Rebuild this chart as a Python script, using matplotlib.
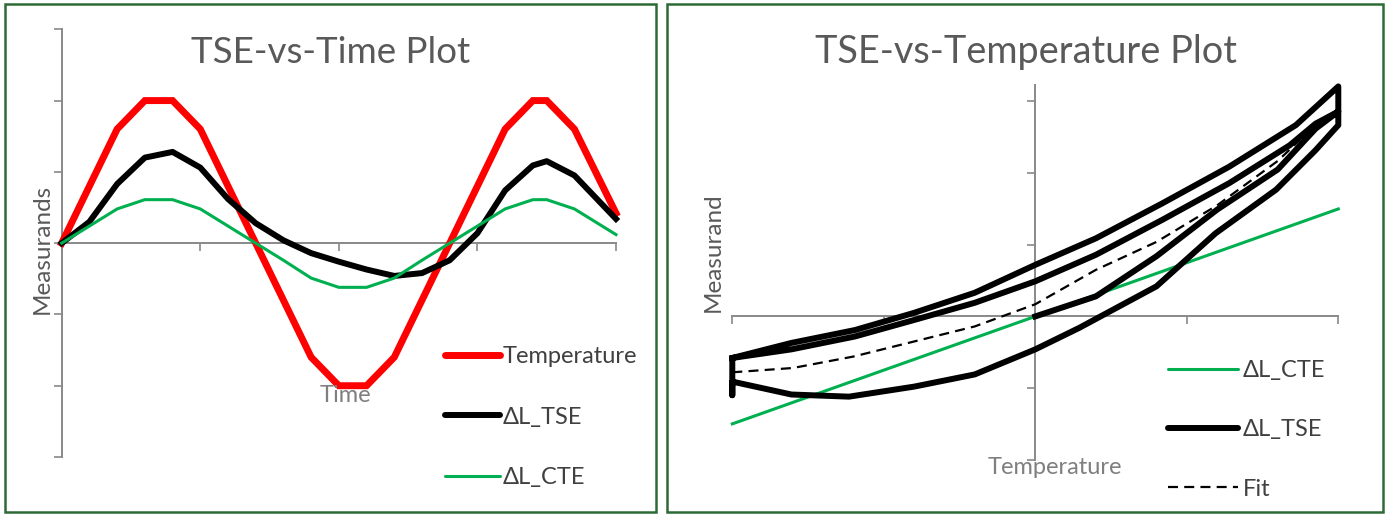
import matplotlib.pyplot as plt
from matplotlib.patches import Rectangle

# ---- dados: painel esquerdo (vs tempo) ----
tempo = [0, 0.2, 0.4, 0.6, 0.8, 1.0, 1.2, 1.4, 1.6, 1.8, 2.0, 2.2, 2.4, 2.6,
         2.8, 3.0, 3.2, 3.4, 3.5, 3.7, 4.0]
temperatura = [0, 0.8, 1.6, 2.0, 2.0, 1.6, 0.8, 0, -0.8, -1.6, -2.0, -2.0,
               -1.6, -0.8, 0, 0.8, 1.6, 2.0, 2.0, 1.6, 0.42]
dl_tse = [0, 0.30, 0.83, 1.20, 1.28, 1.06, 0.62, 0.28, 0.04, -0.14, -0.26,
          -0.37, -0.46, -0.42, -0.24, 0.14, 0.74, 1.09, 1.15, 0.95, 0.34]
dl_cte = [0, 0.24, 0.48, 0.61, 0.61, 0.48, 0.24, 0, -0.24, -0.49, -0.62,
          -0.62, -0.49, -0.24, 0, 0.24, 0.48, 0.61, 0.61, 0.48, 0.12]

# ---- dados: painel direito (vs temperatura) ----
cte_temp = [-2, 2]
cte_val = [-1.5, 1.5]
loop_temp = [0, 0.4, 0.8, 1.2, 1.6, 1.85, 2.0, 2.0,
             1.72, 1.28, 0.84, 0.4, 0, -0.4, -0.8, -1.19, -1.61, -2.0,
             -2.0, -2.0,
             -1.61, -1.23, -0.8, -0.4, 0, 0.29, 0.8, 1.19, 1.59, 1.85, 2.0,
             2.0, 1.85, 1.68, 1.28, 0.84, 0.4, 0, -0.4, -0.8, -1.19, -1.61, -2.0]
loop_val = [0, 0.28, 0.84, 1.49, 2.05, 2.62, 2.86, 3.21,
            2.67, 2.09, 1.58, 1.09, 0.72, 0.33, 0.05, -0.19, -0.37, -0.58,
            -1.10, -0.91,
            -1.09, -1.12, -0.98, -0.81, -0.46, -0.16, 0.42, 1.16, 1.77, 2.32, 2.67,
            2.86, 2.69, 2.39, 1.86, 1.35, 0.86, 0.49, 0.19, -0.05, -0.28, -0.46, -0.58]
fit_temp = [-2, -1.6, -1.2, -0.8, -0.4, 0, 0.4, 0.8, 1.2, 1.6, 1.75]
fit_val = [-0.78, -0.72, -0.56, -0.35, -0.14, 0.17, 0.65, 1.04, 1.55, 2.17, 2.47]

W, H = 1390, 514
cinza = '#898989'
verde_borda = '#2D6A35'
fonte = ['Lato', 'DejaVu Sans']
plt.rcParams['font.family'] = fonte


def fx(px):
    return px / W


def fy(py):
    return 1 - py / H


fig = plt.figure(figsize=(W / 100, H / 100), dpi=100, facecolor='white')

# molduras verdes
for x0, x1 in [(5, 656), (667, 1383)]:
    fig.add_artist(Rectangle((fx(x0), fy(512)), fx(x1 - x0), (512 - 4) / H,
                             transform=fig.transFigure, fill=False,
                             edgecolor=verde_borda, lw=1.8))


def estilo(ax):
    for s in ['top', 'right']:
        ax.spines[s].set_visible(False)
    for s in ['left', 'bottom']:
        ax.spines[s].set_color(cinza)
        ax.spines[s].set_linewidth(1.4)
    ax.spines['bottom'].set_position(('data', 0))
    ax.spines['left'].set_position(('data', 0))
    ax.tick_params(direction='out', length=6, width=1.2, color=cinza,
                   labelleft=False, labelbottom=False)
    ax.set_facecolor('none')


# ---- painel esquerdo ----
ax1 = fig.add_axes([fx(61.7), fy(457), fx(616 - 61.7), (457 - 29.3) / H])
ax1.plot(tempo, temperatura, color='#FF0000', lw=5, label='Temperature',
         zorder=3, clip_on=False, solid_joinstyle='miter')
ax1.plot(tempo, dl_tse, color='black', lw=4.3, label='ΔL_TSE',
         zorder=3, clip_on=False)
ax1.plot(tempo, dl_cte, color='#00B050', lw=2.2, label='ΔL_CTE',
         zorder=3, clip_on=False)
ax1.set_xlim(0, 4)
ax1.set_ylim(-3, 3)
ax1.set_xticks([0, 1, 2, 3, 4])
ax1.set_yticks([-3, -2, -1, 0, 1, 2, 3])
estilo(ax1)
leg1 = ax1.legend(loc='upper left', bbox_to_anchor=(fx(445), fy(346)),
                  bbox_transform=fig.transFigure, frameon=False, fontsize=17,
                  handlelength=2.33, handletextpad=0.13, labelspacing=1.68,
                  borderpad=0, borderaxespad=0)
for t in leg1.get_texts():
    t.set_color('#404040')
for h in leg1.legend_handles:
    h.set_solid_capstyle('round')

fig.text(fx(331), fy(63), 'TSE-vs-Time Plot', ha='center', va='baseline',
         fontsize=26.5, color='#595959')
fig.text(fx(42), fy(249), 'Measurands', rotation=90, ha='center', va='center',
         fontsize=17.5, color='#595959')
fig.text(fx(345), fy(396), 'Time', ha='center', va='center',
         fontsize=17, color='#7F7F7F')

# ---- painel direito ----
ax2 = fig.add_axes([fx(732.3), fy(459.7), fx(1338.3 - 732.3), (459.7 - 85) / H])
ax2.plot(cte_temp, cte_val, color='#00B050', lw=2.2, label='ΔL_CTE',
         zorder=3, clip_on=False)
ax2.plot(loop_temp, loop_val, color='black', lw=4.3, label='ΔL_TSE',
         zorder=3, clip_on=False)
ax2.plot(fit_temp, fit_val, color='black', lw=1.6, ls=(0, (4.5, 2.8)), label='Fit',
         zorder=4, clip_on=False)
ax2.set_xlim(-2, 2)
ax2.set_ylim(-2, 3.23)
ax2.set_xticks([-2, -1, 0, 1, 2])
ax2.set_yticks([-2, -1, 0, 1, 2, 3])
estilo(ax2)
leg2 = ax2.legend(loc='upper left', bbox_to_anchor=(fx(1168), fy(360)),
                  bbox_transform=fig.transFigure, frameon=False, fontsize=17,
                  handlelength=2.97, handletextpad=0.2, labelspacing=1.62,
                  borderpad=0, borderaxespad=0)
for t in leg2.get_texts():
    t.set_color('#404040')
for h in leg2.legend_handles:
    h.set_solid_capstyle('round')

fig.text(fx(1026), fy(63), 'TSE-vs-Temperature Plot', ha='center',
         va='baseline', fontsize=27.3, color='#595959')
fig.text(fx(713), fy(252), 'Measurand', rotation=90, ha='center', va='center',
         fontsize=17.5, color='#595959')
fig.text(fx(1055), fy(467), 'Temperature', ha='center', va='center',
         fontsize=17, color='#7F7F7F')

fig.savefig('out.png', dpi=100, facecolor=fig.get_facecolor())
